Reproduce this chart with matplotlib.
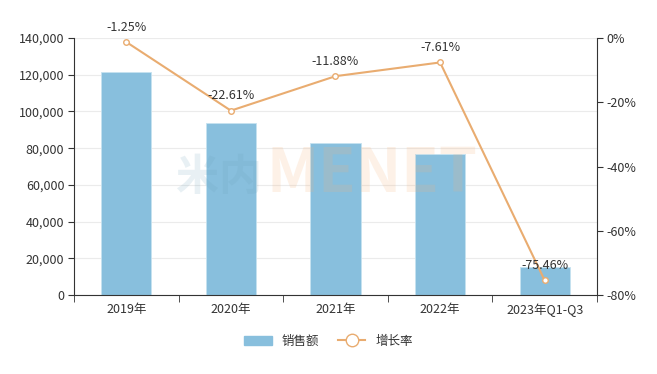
import matplotlib
matplotlib.use("Agg")
import matplotlib.pyplot as plt
from matplotlib.ticker import FuncFormatter, FixedLocator
from matplotlib.patches import Patch
from matplotlib.lines import Line2D
import numpy as np

plt.rcParams['font.family'] = ['Noto Sans CJK SC', 'DejaVu Sans']

categories = ["2019年", "2020年", "2021年", "2022年", "2023年Q1-Q3"]
sales = [121500, 93800, 82800, 76800, 15200]
growth = [-1.25, -22.61, -11.88, -7.61, -75.46]

bar_color = "#88bfdd"
line_color = "#e9ac70"
text_color = "#333333"

fig = plt.figure(figsize=(6.57, 3.74), dpi=100)
ax = fig.add_axes([74/657, 1-295/374, (597-74)/657, (295-38)/374])
x = np.arange(len(categories))

ax.bar(x, sales, width=0.48, color=bar_color, edgecolor="#c6e2f0", linewidth=0.6, zorder=2)
ax.set_xlim(-0.5, len(categories)-0.5)
ax.set_ylim(0, 140000)
ax.set_yticks(np.arange(0, 140001, 20000))
ax.yaxis.set_major_formatter(FuncFormatter(lambda v, p: f"{int(v):,}"))
ax.grid(axis="y", color="#ebebeb", linewidth=0.8, zorder=0)
ax.set_axisbelow(True)

ax.set_xticks(x)
ax.set_xticklabels(categories)
ax.xaxis.set_minor_locator(FixedLocator(np.arange(-0.5, len(categories), 1)))
ax.tick_params(axis="x", which="major", length=0, pad=6)
ax.tick_params(axis="x", which="minor", length=5, color="#333333", direction="out")
ax.tick_params(axis="y", length=4, color="#333333", pad=3)
ax.tick_params(labelsize=9, labelcolor=text_color)

for s in ["top", "right"]:
    ax.spines[s].set_visible(False)
ax.spines["left"].set_color("#333333")
ax.spines["bottom"].set_color("#333333")

ax2 = ax.twinx()
ax2.set_ylim(-80, 0)
ax2.set_yticks([0, -20, -40, -60, -80])
ax2.yaxis.set_major_formatter(FuncFormatter(lambda v, p: f"{int(v)}%"))
ax2.tick_params(axis="y", length=4, color="#333333", labelsize=9, labelcolor=text_color, pad=3)
for s in ["top", "left", "bottom"]:
    ax2.spines[s].set_visible(False)
ax2.spines["right"].set_color("#333333")

ax2.plot(x, growth, color=line_color, linewidth=1.5, marker="o", markersize=4,
         markerfacecolor="white", markeredgecolor=line_color, markeredgewidth=1, zorder=3)
for xi, g in zip(x, growth):
    ax2.annotate(f"{g:.2f}%", (xi, g), xytext=(0, 6), textcoords="offset points",
                 ha="center", va="bottom", fontsize=9, color=text_color)

# watermark
fig.text(176/657, 1-190/374, "米内", fontsize=31, fontweight="bold", color="#6a9fb8",
         alpha=0.15, ha="left", va="baseline")
fig.text(266/657, 1-192/374, "MENET", fontsize=44, fontweight="bold", color="#f4b27a",
         alpha=0.18, ha="left", va="baseline")

handles = [Patch(facecolor=bar_color, edgecolor=bar_color),
           Line2D([0], [0], color=line_color, linewidth=1.5, marker="o", markersize=9,
                  markerfacecolor="white", markeredgecolor=line_color)]
fig.legend(handles, ["销售额", "增长率"], loc="center", bbox_to_anchor=(0.5, 1-341/374),
           ncol=2, frameon=False, fontsize=9, handlelength=2.2, columnspacing=1.5,
           labelcolor=text_color)

fig.savefig("out.png", dpi=100)
